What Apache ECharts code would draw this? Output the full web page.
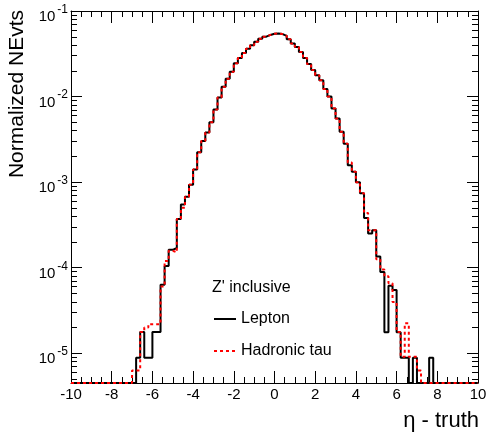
<!DOCTYPE html>
<html>
<head>
<meta charset="utf-8">
<title>eta - truth</title>
<script src="https://cdn.jsdelivr.net/npm/echarts@6/dist/echarts.min.js"></script>
<style>
  html, body { margin: 0; padding: 0; background: #fff; }
  #main { width: 490px; height: 437px; }
</style>
</head>
<body>
<div id="main"></div>
<script>
// binning: 0.2 wide bins over [-10, 10]; only the filled stretch is listed, the rest is empty
var binWidth = 0.2;
var xMin = -10, xMax = 10;
var firstBin = -7.0;          // low edge of the first listed bin
var yMin = 4.5e-6, yMax = 0.1;

// Lepton, bins from -7.0 to 8.0
var lepton = [
  0, 8.9e-6, 1.78e-5, 8.9e-6, 8.9e-6, 1.78e-5, 1.78e-5, 6.31e-5, 1.05e-4, 1.62e-4,
  1.70e-4, 3.72e-4, 5.50e-4, 6.76e-4, 9.33e-4, 1.41e-3, 2.24e-3, 3.02e-3, 3.80e-3, 5.01e-3,
  7.08e-3, 9.77e-3, 1.30e-2, 1.62e-2, 1.95e-2, 2.45e-2, 2.82e-2, 3.24e-2, 3.63e-2, 3.98e-2,
  4.37e-2, 4.73e-2, 5.01e-2, 5.25e-2, 5.43e-2, 5.47e-2, 5.37e-2, 5.13e-2, 4.68e-2, 4.17e-2,
  3.80e-2, 3.31e-2, 2.82e-2, 2.40e-2, 2.04e-2, 1.78e-2, 1.55e-2, 1.23e-2, 1.00e-2, 7.24e-3,
  5.56e-3, 3.89e-3, 2.82e-3, 1.58e-3, 1.32e-3, 1.00e-3, 7.41e-4, 3.80e-4, 2.51e-4, 2.75e-4,
  1.35e-4, 8.91e-5, 1.76e-5, 6.17e-5, 5.50e-5, 1.76e-5, 8.9e-6, 8.9e-6, 0, 8.9e-6,
  0, 0, 0, 8.9e-6, 0
];

// Hadronic tau, same bins
var hadTau = [
  6.3e-6, 6.3e-6, 1.78e-5, 2.0e-5, 2.19e-5, 2.19e-5, 2.19e-5, 6.03e-5, 1.20e-4, 1.58e-4,
  1.51e-4, 3.72e-4, 5.01e-4, 6.76e-4, 9.33e-4, 1.41e-3, 2.24e-3, 3.02e-3, 3.80e-3, 5.01e-3,
  7.08e-3, 9.77e-3, 1.30e-2, 1.62e-2, 1.95e-2, 2.45e-2, 2.82e-2, 3.24e-2, 3.63e-2, 3.98e-2,
  4.37e-2, 4.73e-2, 5.01e-2, 5.25e-2, 5.43e-2, 5.47e-2, 5.37e-2, 5.13e-2, 4.68e-2, 4.17e-2,
  3.80e-2, 3.31e-2, 2.82e-2, 2.40e-2, 2.04e-2, 1.78e-2, 1.55e-2, 1.23e-2, 1.00e-2, 7.24e-3,
  5.56e-3, 3.89e-3, 2.82e-3, 1.70e-3, 1.32e-3, 1.00e-3, 7.41e-4, 4.37e-4, 2.75e-4, 2.75e-4,
  1.26e-4, 9.55e-5, 7.94e-5, 6.61e-5, 3.98e-5, 1.78e-5, 9.1e-6, 2.24e-5, 9.1e-6, 9.1e-6,
  6.3e-6, 0, 0, 0, 0
];

var seriesNames = ['Lepton', 'Hadronic tau'];
var legendHeader = "Z' inclusive";
var xTitle = '\u03b7 - truth';
var yTitle = 'Normalized NEvts';

var FONT = "'Liberation Sans', Arial, Helvetica, sans-serif";

// turn bin contents into step points; empty bins lie on the frame floor like in ROOT
function histPoints(vals) {
    var pts = [];
    var nBins = Math.round((xMax - xMin) / binWidth);
    var offset = Math.round((firstBin - xMin) / binWidth);
    for (var i = 0; i < nBins; i++) {
        var v = vals[i - offset];
        if (!(v > 0)) v = yMin;
        pts.push([+(xMin + i * binWidth).toFixed(2), v]);
    }
    pts.push([xMax, pts[pts.length - 1][1]]);
    return pts;
}

// log minor ticks (2..9 per decade) for the tick-only overlay axes
var logLo = Math.log10(yMin), logHi = Math.log10(yMax);
var minorTicks = [];
for (var d = -6; d <= -2; d++) {
    for (var k = 2; k <= 9; k++) {
        var t = d + Math.log10(k);
        if (t > logLo && t < logHi) minorTicks.push(t);
    }
}

var chart = echarts.init(document.getElementById('main'));

function xAx(pos, labels) {
    return {
        type: 'value', position: pos, min: xMin, max: xMax, interval: 2,
        axisLine: { show: true, onZero: false, lineStyle: { color: '#000', width: 1 } },
        axisTick: { show: true, inside: true, length: 12, lineStyle: { color: '#000' } },
        minorTick: { show: true, splitNumber: 4, length: 6, lineStyle: { color: '#000' } },
        splitLine: { show: false },
        axisLabel: { show: labels, color: '#000', fontSize: 15, fontFamily: FONT, margin: 4 }
    };
}

function yLog(pos, labels) {
    return {
        type: 'log', logBase: 10, position: pos, min: yMin, max: yMax,
        axisLine: { show: true, onZero: false, lineStyle: { color: '#000', width: 1 } },
        axisTick: { show: true, inside: true, length: 11, lineStyle: { color: '#000' } },
        splitLine: { show: false },
        axisLabel: {
            show: labels, margin: 3, padding: [6, 0, 0, 0],
            formatter: function (v) {
                var p = Math.log10(v);
                if (Math.abs(p - Math.round(p)) > 1e-6) return '';
                return '{b|10}{s|' + Math.round(p) + '}';
            },
            rich: {
                b: { fontSize: 15, fontFamily: FONT, color: '#000', lineHeight: 21, verticalAlign: 'bottom' },
                s: { fontSize: 12, fontFamily: FONT, color: '#000', lineHeight: 13, verticalAlign: 'top', padding: [0, 0, 0, 2] }
            }
        }
    };
}

function yMinor(pos) {
    return {
        type: 'value', position: pos, min: logLo, max: logHi,
        axisLine: { show: false, onZero: false },
        axisLabel: { show: false },
        splitLine: { show: false },
        axisTick: { show: true, inside: true, length: 6, customValues: minorTicks, lineStyle: { color: '#000' } }
    };
}

var option = {
    animation: false,
    backgroundColor: '#fff',
    grid: { left: 71, right: 12, top: 11, bottom: 54, containLabel: false, outerBoundsMode: 'none' },
    xAxis: [xAx('bottom', true), xAx('top', false)],
    yAxis: [yLog('left', true), yMinor('left'), yLog('right', false), yMinor('right')],
    legend: {
        orient: 'vertical', left: 213, top: 311, padding: 0,
        itemWidth: 22, itemHeight: 16, itemGap: 16,
        itemStyle: { opacity: 0 },
        textStyle: { fontSize: 16, fontFamily: FONT, color: '#000' },
        data: seriesNames
    },
    graphic: [
        { type: 'text', x: 212, y: 288, style: { text: legendHeader, font: '16px ' + FONT, fill: '#000', textVerticalAlign: 'middle' } },
        { type: 'text', x: 479, y: 421, style: { text: xTitle, font: '22px ' + FONT, fill: '#000', textAlign: 'right', textVerticalAlign: 'middle' } },
        { type: 'text', x: 17, y: 10, rotation: Math.PI / 2, style: { text: yTitle, font: '21px ' + FONT, fill: '#000', textAlign: 'right', textVerticalAlign: 'middle' } }
    ],
    series: [
        {
            name: seriesNames[0], type: 'line', step: 'end', symbol: 'none',
            xAxisIndex: 0, yAxisIndex: 0,
            lineStyle: { color: '#000', width: 2 }, itemStyle: { color: '#000' },
            data: histPoints(lepton)
        },
        {
            name: seriesNames[1], type: 'line', step: 'end', symbol: 'none',
            xAxisIndex: 0, yAxisIndex: 0,
            lineStyle: { color: '#ff0000', width: 2, type: [3, 3] }, itemStyle: { color: '#ff0000' },
            data: histPoints(hadTau)
        }
    ]
};
chart.setOption(option);
</script>
</body>
</html>
